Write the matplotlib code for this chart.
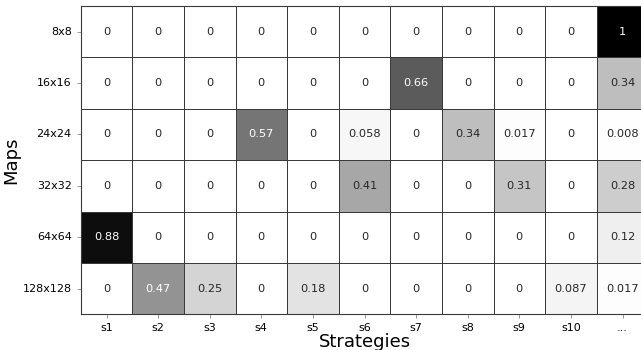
import numpy as np
import matplotlib
matplotlib.use("Agg")
import matplotlib.pyplot as plt
import seaborn as sns

maps = ["8x8", "16x16", "24x24", "32x32", "64x64", "128x128"]
strategies = ["s1", "s2", "s3", "s4", "s5", "s6", "s7", "s8", "s9", "s10", "..."]

row_8x8 = [0, 0, 0, 0, 0, 0, 0, 0, 0, 0, 1]
row_16x16 = [0, 0, 0, 0, 0, 0, 0.66, 0, 0, 0, 0.34]
row_24x24 = [0, 0, 0, 0.57, 0, 0.058, 0, 0.34, 0.017, 0, 0.008]
row_32x32 = [0, 0, 0, 0, 0, 0.41, 0, 0, 0.31, 0, 0.28]
row_64x64 = [0.88, 0, 0, 0, 0, 0, 0, 0, 0, 0, 0.12]
row_128x128 = [0, 0.47, 0.25, 0, 0.18, 0, 0, 0, 0, 0.087, 0.017]

data = np.array([row_8x8, row_16x16, row_24x24, row_32x32, row_64x64, row_128x128])

fig = plt.figure(figsize=(6.41, 3.5), dpi=100)
ax = fig.add_axes([0.1259, 0.102, 0.8855, 0.881])

sns.heatmap(data, ax=ax, cmap="Greys", vmin=0, vmax=0.92, annot=True, fmt=".2g",
            annot_kws={"fontsize": 8.2}, linewidths=0.5, linecolor="#3a3a3a",
            cbar=False, xticklabels=strategies, yticklabels=maps)

# light text on the darker cells only
for txt, val in zip(ax.texts, data.flat):
    txt.set_color("white" if val > 0.45 else "#262626")

ax.tick_params(axis="both", labelsize=8, length=3, width=0.6, color="#888888")
plt.setp(ax.get_yticklabels(), rotation=0)
plt.setp(ax.get_xticklabels(), rotation=0)
for side in ["left", "bottom", "top"]:
    ax.spines[side].set_visible(True)
    ax.spines[side].set_color("#3a3a3a")
    ax.spines[side].set_linewidth(0.8)

ax.set_xlabel("Strategies", fontsize=13, labelpad=0)
ax.set_ylabel("Maps", fontsize=13, labelpad=2)

fig.savefig("out.png", dpi=100)
